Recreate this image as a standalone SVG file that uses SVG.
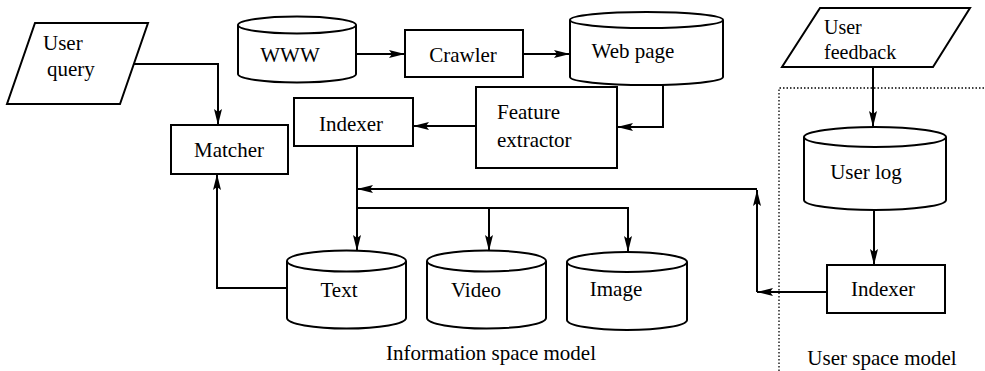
<svg xmlns="http://www.w3.org/2000/svg" width="985" height="371" viewBox="0 0 985 371">
<style>
.s{fill:#fff;stroke:#000;stroke-width:2}
.c{fill:none;stroke:#000;stroke-width:2}
.t{font-family:"Liberation Serif","Times New Roman",serif;font-size:21px;fill:#000}
.m{text-anchor:middle}
.d{fill:none;stroke:#000;stroke-width:1.3;stroke-dasharray:1.5 2}
</style>
<defs>
<marker id="ah" viewBox="0 0 16 8" refX="16" refY="4" markerWidth="16" markerHeight="8" markerUnits="userSpaceOnUse" orient="auto">
<path d="M0,0 L16,4 L0,8 L3,4 Z" fill="#000"/>
</marker>
</defs>

<path class="d" d="M779,371 V88 H985"/>

<g id="connectors">
<path class="c" d="M125,64 H218 V125" marker-end="url(#ah)"/>
<path class="c" d="M287,288 H217 V174" marker-end="url(#ah)"/>
<path class="c" d="M356,54 H405" marker-end="url(#ah)"/>
<path class="c" d="M523,54 H570" marker-end="url(#ah)"/>
<path class="c" d="M663,84 V127 H617" marker-end="url(#ah)"/>
<path class="c" d="M476,126 H413" marker-end="url(#ah)"/>
<path class="c" d="M357,146 V251" marker-end="url(#ah)"/>
<path class="c" d="M357,208 H628 V252" marker-end="url(#ah)"/>
<path class="c" d="M489,208 V251" marker-end="url(#ah)"/>
<path class="c" d="M827,292 H757" marker-end="url(#ah)"/>
<path class="c" d="M757,292 V190" marker-end="url(#ah)"/>
<path class="c" d="M757,189 H357" marker-end="url(#ah)"/>
<path class="c" d="M873,67 V127" marker-end="url(#ah)"/>
<path class="c" d="M874,210 V265" marker-end="url(#ah)"/>
</g>

<g id="user-query">
<path class="s" d="M35,23 H148 L120,104 H7 Z"/>
<text class="t" x="43" y="50">User</text>
<text class="t" x="47" y="76">query</text>
</g>

<g id="matcher">
<rect class="s" x="171" y="125" width="117" height="49"/>
<text class="t m" x="229" y="157">Matcher</text>
</g>

<g id="www">
<path class="s" d="M238,25 A59,8.5 0 0 1 356,25 V74 A59,8.5 0 0 1 238,74 Z"/>
<path class="c" d="M238,25 A59,8.5 0 0 0 356,25"/>
<text class="t m" x="290" y="62">WWW</text>
</g>

<g id="crawler">
<rect class="s" x="405" y="30" width="118" height="47"/>
<text class="t m" x="463" y="62">Crawler</text>
</g>

<g id="web-page">
<path class="s" d="M570,20 A76.5,8 0 0 1 723,20 V77 A76.5,8 0 0 1 570,77 Z"/>
<path class="c" d="M570,20 A76.5,8 0 0 0 723,20"/>
<text class="t m" x="633" y="58">Web page</text>
</g>

<g id="indexer">
<rect class="s" x="294" y="98" width="119" height="48"/>
<text class="t m" x="351" y="131">Indexer</text>
</g>

<g id="feature-extractor">
<rect class="s" x="476" y="87" width="141" height="81"/>
<text class="t" x="497" y="119">Feature</text>
<text class="t" x="497" y="147">extractor</text>
</g>

<g id="text-db">
<path class="s" d="M287,261 A59.5,10.5 0 0 1 406,261 V318 A59.5,10.5 0 0 1 287,318 Z"/>
<path class="c" d="M287,261 A59.5,10.5 0 0 0 406,261"/>
<text class="t m" x="339" y="297">Text</text>
</g>

<g id="video-db">
<path class="s" d="M427,261 A59.5,10.5 0 0 1 546,261 V318 A59.5,10.5 0 0 1 427,318 Z"/>
<path class="c" d="M427,261 A59.5,10.5 0 0 0 546,261"/>
<text class="t m" x="476" y="297">Video</text>
</g>

<g id="image-db">
<path class="s" d="M567,262 A60,10 0 0 1 687,262 V320 A60,10 0 0 1 567,320 Z"/>
<path class="c" d="M567,262 A60,10 0 0 0 687,262"/>
<text class="t m" x="616" y="296">Image</text>
</g>

<g id="user-feedback">
<path class="s" d="M820,8 H970 L933,67 H782 Z"/>
<text class="t" x="824" y="34" style="font-size:20px">User</text>
<text class="t" x="824" y="59" style="font-size:20px">feedback</text>
</g>

<g id="user-log">
<path class="s" d="M804,137 A71,10 0 0 1 946,137 V200 A71,10 0 0 1 804,200 Z"/>
<path class="c" d="M804,137 A71,10 0 0 0 946,137"/>
<text class="t m" x="866" y="179">User log</text>
</g>

<g id="user-indexer">
<rect class="s" x="827" y="265" width="118" height="48"/>
<text class="t m" x="883" y="296">Indexer</text>
</g>

<g id="labels">
<text class="t m" x="491" y="360">Information space model</text>
<text class="t m" x="882" y="365">User space model</text>
</g>
</svg>
